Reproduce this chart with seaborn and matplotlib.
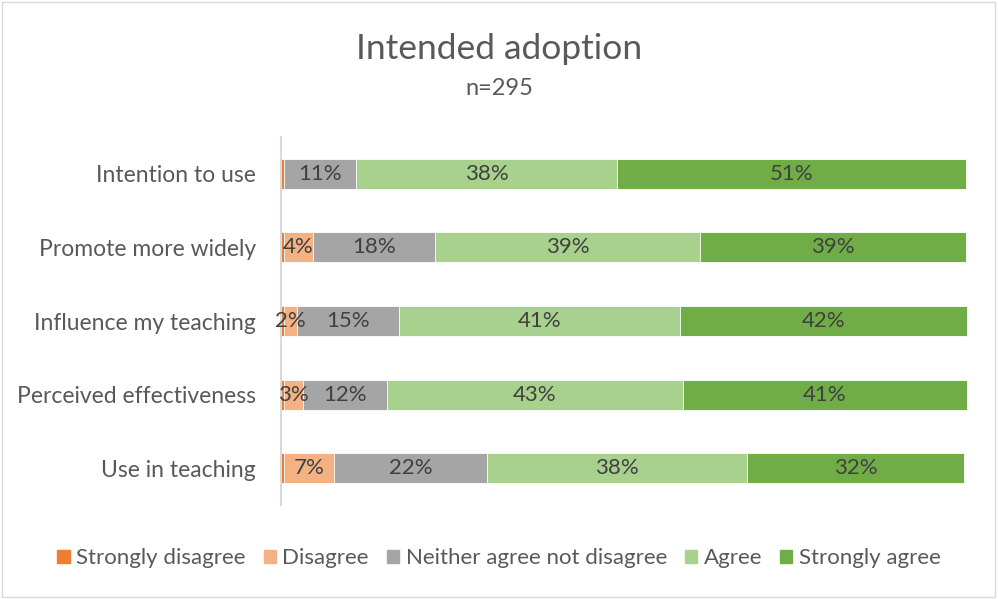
import matplotlib
matplotlib.use("Agg")
import matplotlib.pyplot as plt
import seaborn as sns
import pandas as pd

# Survey items, top to bottom
items = ["Intention to use", "Promote more widely", "Influence my teaching",
         "Perceived effectiveness", "Use in teaching"]

# Response shares (%) per item
strongly_disagree = [0.4, 0.4, 0.4, 0.4, 0.4]
disagree = [0.0, 4.2, 1.9, 2.8, 7.3]
neither = [10.6, 17.9, 14.9, 12.2, 22.4]
agree = [38.0, 38.6, 41.0, 43.2, 37.9]
strongly_agree = [50.9, 38.8, 41.8, 41.4, 31.6]

levels = ["Strongly disagree", "Disagree", "Neither agree not disagree",
          "Agree", "Strongly agree"]
colors = ["#ED7D31", "#F4B183", "#A5A5A5", "#A9D18E", "#70AD47"]

sns.set_theme(style="white")
plt.rcParams["font.family"] = ["Lato", "DejaVu Sans"]

df = pd.DataFrame({"item": items,
                   levels[0]: strongly_disagree,
                   levels[1]: disagree,
                   levels[2]: neither,
                   levels[3]: agree,
                   levels[4]: strongly_agree})
cum = df[levels].cumsum(axis=1)

fig = plt.figure(figsize=(9.98, 5.99), dpi=100)
ax = fig.add_axes([0.2816, 0.1569, 0.972 - 0.2816, 0.7713 - 0.1569])

# Stacked bars: draw cumulative totals from the longest down so each layer overlays
for lvl, col in reversed(list(zip(levels, colors))):
    sns.barplot(x=cum[lvl], y=df["item"], orient="h", color=col, width=0.41,
                edgecolor="white", linewidth=0.6, ax=ax, saturation=1)

# Percentage labels centred in each segment
text_col = "#404040"
for i in range(len(items)):
    left = 0.0
    for lvl in levels:
        v = df.loc[i, lvl]
        if v >= 1:
            ax.text(left + v / 2, i, f"{v:.0f}%", ha="center", va="center",
                    fontsize=16, color=text_col)
        left += v

ax.set_xlim(0, 100.5)
ax.set_ylim(4.5, -0.5)
ax.set_xlabel("")
ax.set_ylabel("")
ax.set_xticks([])
ax.tick_params(axis="y", length=0, pad=18, labelsize=16.5, labelcolor="#595959")
for s in ["top", "right", "bottom"]:
    ax.spines[s].set_visible(False)
ax.spines["left"].set_color("#D9D9D9")
ax.spines["left"].set_linewidth(1.5)

# Title and sample size
fig.text(0.5, 0.918, "Intended adoption", ha="center", va="center",
         fontsize=25.5, color="#595959")
fig.text(0.5, 0.853, "n=295", ha="center", va="center",
         fontsize=17, color="#595959")

# Legend along the bottom
handles = [plt.Rectangle((0, 0), 1, 1, color=c) for c in colors]
fig.legend(handles, levels, loc="center", bbox_to_anchor=(0.5, 0.068), ncol=5,
           frameon=False, fontsize=16, labelcolor="#595959",
           handlelength=0.55, handleheight=0.55, handletextpad=0.3,
           columnspacing=0.8)

# Chart border
fig.patches.append(plt.Rectangle((0.002, 0.003), 0.995, 0.994,
                                 transform=fig.transFigure, fill=False,
                                 edgecolor="#D9D9D9", linewidth=1))

fig.savefig("out.png", dpi=100)
